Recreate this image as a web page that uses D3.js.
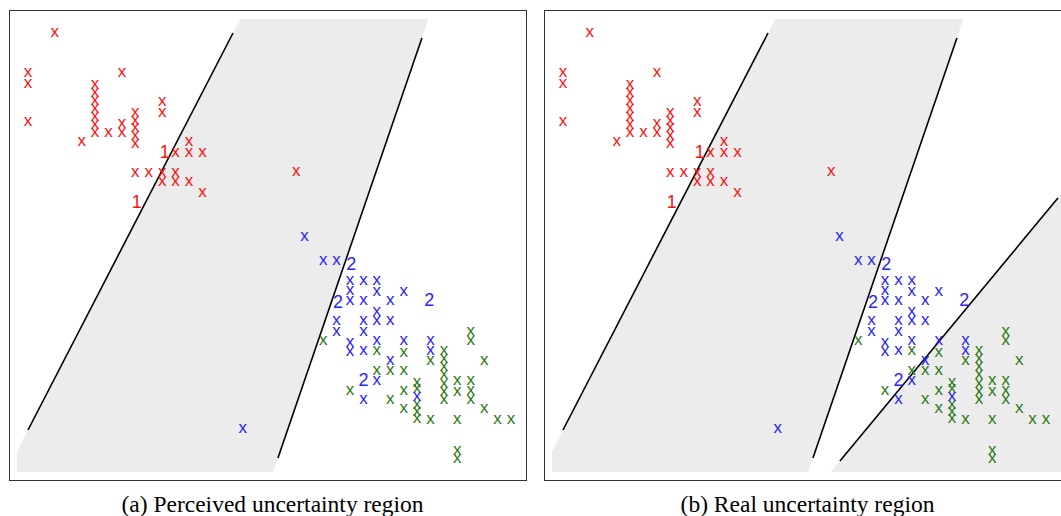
<!DOCTYPE html>
<html>
<head>
<meta charset="utf-8">
<script src="https://cdn.jsdelivr.net/npm/d3@7"></script>
<style>
  body { margin: 0; background: #fff; }
</style>
</head>
<body>
<div id="plot"></div>
<script>
// class 1 points (x, y)
var class1 = [
    [4.3, 5.09], [4.3, 4.96], [4.3, 4.48],
    [4.5, 5.59],
    [4.7, 4.23],
    [4.8, 4.95], [4.8, 4.85], [4.8, 4.75], [4.8, 4.65], [4.8, 4.55], [4.8, 4.45], [4.8, 4.35],
    [4.9, 4.35],
    [5.0, 5.09], [5.0, 4.46], [5.0, 4.35],
    [5.1, 4.60], [5.1, 4.50], [5.1, 4.41], [5.1, 4.31], [5.1, 4.21], [5.1, 3.85],
    [5.2, 3.85],
    [5.3, 4.73], [5.3, 4.60], [5.3, 3.85], [5.3, 3.73],
    [5.4, 4.10], [5.4, 3.85], [5.4, 3.73],
    [5.5, 4.23], [5.5, 4.10], [5.5, 3.73],
    [5.6, 4.10], [5.6, 3.60],
    [6.3, 3.86]
]

// class 2 points
var class2 = [
    [6.36, 3.04],
    [6.5, 2.74], [6.6, 2.74],
    [6.7, 2.50], [6.7, 2.375], [6.7, 2.25],
    [6.8, 2.49], [6.8, 2.25],
    [6.9, 2.49], [6.9, 2.36],
    [7.0, 2.25], [7.1, 2.36],
    [7.0, 2.0], [6.9, 2.11], [6.9, 1.99],
    [6.6, 1.99], [6.6, 1.86],
    [6.8, 1.99], [6.8, 1.86],
    [6.7, 1.725], [6.7, 1.61],
    [6.8, 1.625],
    [6.9, 1.74],
    [7.1, 1.74],
    [7.3, 1.75], [7.3, 1.625],
    [7.0, 1.5],
    [6.9, 1.25],
    [6.8, 1.01],
    [7.2, 1.04],
    [5.9, 0.65]
]

// class 3 points
var class3 = [
    [6.5, 1.75],
    [6.7, 1.125],
    [6.9, 1.625], [6.9, 1.375],
    [7.0, 1.375], [7.0, 1.01],
    [7.1, 1.6], [7.1, 1.375], [7.1, 1.125], [7.1, 0.89],
    [7.2, 1.225], [7.2, 1.14], [7.2, 0.95], [7.2, 0.86], [7.2, 0.775],
    [7.3, 1.5], [7.3, 0.76],
    [7.4, 1.625], [7.4, 1.525], [7.4, 1.425], [7.4, 1.325], [7.4, 1.21], [7.4, 1.11], [7.4, 1.01],
    [7.5, 1.24], [7.5, 1.11], [7.5, 0.76], [7.5, 0.375], [7.5, 0.275],
    [7.6, 1.86], [7.6, 1.74], [7.6, 1.24], [7.6, 1.125], [7.6, 1.01],
    [7.7, 1.49], [7.7, 0.89],
    [7.8, 0.76], [7.9, 0.76]
]

// prototypes
var proto1 = [[5.32, 4.10], [5.11, 3.475]]
var proto2 = [[6.71, 2.71], [6.61, 2.225], [7.29, 2.25], [6.80, 1.25]]

// boundary lines, each as two end points
var line1 = [[5.828, 5.5875], [4.3, 0.625]]
var line2 = [[7.236, 5.525], [6.163, 0.275]]
var line3 = [[7.989, 3.525], [6.364, 0.2375]]

var captions = ["(a) Perceived uncertainty region", "(b) Real uncertainty region"]

// svg
var W = 1061, H = 516
var svg = d3.select("#plot").append("svg")
    .attr("width", W)
    .attr("height", H)

var pw = 517, ph = 470

var x = d3.scaleLinear().domain([4.3, 7.9]).range([19, 502])
var y = d3.scaleLinear().domain([0, 5.875]).range([470, 0])

// x on a line at a given y
function xAt(L, yv) {
    var a = L[0], b = L[1]
    return a[0] + (yv - a[1]) * (b[0] - a[0]) / (b[1] - a[1])
}

function drawPanel(id, left, real) {
    var g = svg.append("g").attr("transform", "translate(" + left + ",10)")

    g.append("clipPath").attr("id", "clip" + id)
        .append("rect")
        .attr("x", 8).attr("y", 9)
        .attr("width", real ? pw + 10 : pw - 16)
        .attr("height", ph - 17)

    var shade = g.append("g").attr("clip-path", "url(#clip" + id + ")")

    var strip = [
        [xAt(line1, 7), 7], [xAt(line2, 7), 7],
        [xAt(line2, -1), -1], [xAt(line1, -1), -1]
    ]
    var regions = [strip]
    if (real) {
        regions.push([
            [xAt(line3, 7), 7], [12, 7], [12, -1], [xAt(line3, -1), -1]
        ])
    }
    shade.selectAll("path")
        .data(regions)
        .enter().append("path")
        .attr("d", function (d) {
            return "M" + d.map(function (p) { return x(p[0]) + "," + y(p[1]) }).join("L") + "Z"
        })
        .attr("fill", "#ececec")

    var lines = real ? [line1, line2, line3] : [line1, line2]
    g.selectAll(".bound")
        .data(lines)
        .enter().append("line")
        .attr("class", "bound")
        .attr("x1", function (d) { return x(d[0][0]) })
        .attr("y1", function (d) { return y(d[0][1]) })
        .attr("x2", function (d) { return x(d[1][0]) })
        .attr("y2", function (d) { return y(d[1][1]) })
        .attr("stroke", "#000")
        .attr("stroke-width", 1.6)

    var sets = [
        {pts: class1, col: "#ff1010"},
        {pts: class3, col: "#2d7a14"},
        {pts: class2, col: "#2a22ff"}
    ]
    sets.forEach(function (s) {
        g.append("g").selectAll("text")
            .data(s.pts)
            .enter().append("text")
            .attr("x", function (d) { return x(d[0]) })
            .attr("y", function (d) { return y(d[1]) })
            .attr("dy", "0.27em")
            .attr("text-anchor", "middle")
            .attr("fill", s.col)
            .style("font-family", "'Liberation Sans', Arial, sans-serif")
            .style("font-size", "17px")
            .text("x")
    })

    var protos = [
        {pts: proto1, col: "#ff1010", lab: "1"},
        {pts: proto2, col: "#2a22ff", lab: "2"}
    ]
    protos.forEach(function (s) {
        g.append("g").selectAll("text")
            .data(s.pts)
            .enter().append("text")
            .attr("x", function (d) { return x(d[0]) })
            .attr("y", function (d) { return y(d[1]) })
            .attr("dy", "0.36em")
            .attr("text-anchor", "middle")
            .attr("fill", s.col)
            .style("font-family", "'Liberation Sans', Arial, sans-serif")
            .style("font-size", "18px")
            .text(s.lab)
    })

    // frame
    g.append("rect")
        .attr("x", 0.5).attr("y", 0.5)
        .attr("width", pw).attr("height", ph)
        .attr("fill", "none")
        .attr("stroke", "#333")
        .attr("stroke-width", 1)

    svg.append("text")
        .attr("x", left + pw / 2 + 5)
        .attr("y", 512)
        .attr("text-anchor", "middle")
        .style("font-family", "'Liberation Serif', 'Times New Roman', serif")
        .style("font-size", "23.5px")
        .text(captions[id])
}

drawPanel(0, 9, false)
drawPanel(1, 544, true)
</script>
</body>
</html>
